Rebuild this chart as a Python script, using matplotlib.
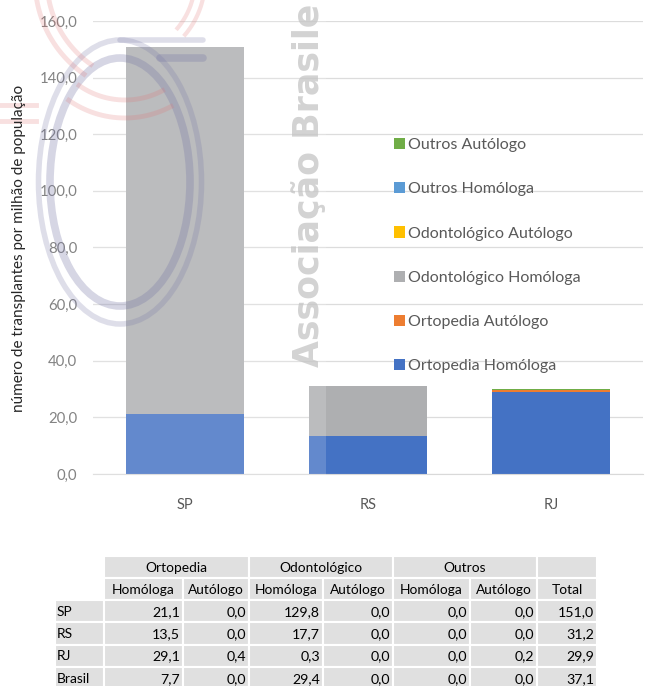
import numpy as np
import matplotlib
matplotlib.use("Agg")
import matplotlib.pyplot as plt
from matplotlib.patches import Rectangle, Ellipse

plt.rcParams['font.family'] = ['Lato', 'DejaVu Sans']

W, H = 657, 686

# dados do grafico
estados = ["SP", "RS", "RJ"]
series_nomes = ["Ortopedia Homóloga", "Ortopedia Autólogo", "Odontológico Homóloga",
                "Odontológico Autólogo", "Outros Homóloga", "Outros Autólogo"]
ortopedia_homologa = [21.1, 13.5, 29.1]
ortopedia_autologo = [0.0, 0.0, 0.4]
odonto_homologa = [129.8, 17.7, 0.3]
odonto_autologo = [0.0, 0.0, 0.0]
outros_homologa = [0.0, 0.0, 0.0]
outros_autologo = [0.0, 0.0, 0.2]
cores = ["#4472C4", "#ED7D31", "#AEAFB1", "#FFC000", "#5B9BD5", "#70AD47"]
y_ticks = [0, 20, 40, 60, 80, 100, 120, 140, 160]

# dados da tabela
tabela_linhas = ["SP", "RS", "RJ", "Brasil"]
grupos = ["Ortopedia", "Odontológico", "Outros"]
subcolunas = ["Homóloga", "Autólogo", "Homóloga", "Autólogo", "Homóloga", "Autólogo", "Total"]
tabela_valores = [
    [21.1, 0.0, 129.8, 0.0, 0.0, 0.0, 151.0],
    [13.5, 0.0, 17.7, 0.0, 0.0, 0.0, 31.2],
    [29.1, 0.4, 0.3, 0.0, 0.0, 0.2, 29.9],
    [7.7, 0.0, 29.4, 0.0, 0.0, 0.0, 37.1],
]


def fmt(v):
    return f"{v:.1f}".replace(".", ",")


def fig_box(x0, y0, x1, y1):
    # pixel box (y para baixo) -> fracao da figura
    return [x0 / W, 1 - y1 / H, (x1 - x0) / W, (y1 - y0) / H]


fig = plt.figure(figsize=(W / 100, H / 100), dpi=100)

# --- grafico de barras empilhadas ---
ax = fig.add_axes(fig_box(93, 21, 643, 474))
ax.set_zorder(1)
series = [ortopedia_homologa, ortopedia_autologo, odonto_homologa,
          odonto_autologo, outros_homologa, outros_autologo]
x = np.arange(len(estados))
base = np.zeros(len(estados))
handles = []
for nome, vals, cor in zip(series_nomes, series, cores):
    b = ax.bar(x, vals, 0.645, bottom=base, color=cor, label=nome, zorder=2)
    handles.append(b)
    base += np.array(vals)

ax.set_xlim(-0.5, 2.5)
ax.set_ylim(0, 160)
ax.set_yticks(y_ticks)
ax.set_yticklabels([fmt(v) for v in y_ticks])
ax.set_xticks(x)
ax.set_xticklabels(estados)
ax.yaxis.grid(True, color="#DCDCDC", lw=0.9)
ax.set_axisbelow(True)
for s in ["top", "right", "left"]:
    ax.spines[s].set_visible(False)
ax.spines["bottom"].set_color("#D9D9D9")
ax.tick_params(axis="y", length=0, pad=11.5, labelsize=10.7, labelcolor="#6a6a6a")
ax.tick_params(axis="x", length=0, pad=17, labelsize=10.5, labelcolor="#595959")

leg = ax.legend(handles[::-1], series_nomes[::-1], loc="upper left",
                bbox_to_anchor=(394 / W, 1 - 138 / H), bbox_transform=fig.transFigure,
                frameon=False, fontsize=11.5, labelcolor="#595959",
                handlelength=0.7, handleheight=0.7, handletextpad=0.2,
                labelspacing=1.88, borderpad=0, borderaxespad=0)

# --- camada em pixels: marca d'agua, rotulo e tabela ---
px = fig.add_axes([0, 0, 1, 1])
px.set_xlim(0, W)
px.set_ylim(H, 0)
px.axis("off")
px.set_zorder(3)
px.patch.set_alpha(0)

px.text(19, 248, "número de transplantes por milhão de população", rotation=90,
        ha="center", va="center", fontsize=11, color="#262626")

# marca d'agua (logo)
px.add_patch(Rectangle((0, 0), 326, 490, facecolor="white", alpha=0.17, lw=0))
lav = (0.47, 0.47, 0.65)
px.add_patch(Ellipse((120, 182), 163, 284, fill=False, ec=lav, lw=4, alpha=0.24))
px.add_patch(Ellipse((120, 182), 140, 248, fill=False, ec=lav, lw=5.5, alpha=0.3))
px.plot([120, 203], [40, 40], color=lav, lw=4, alpha=0.24, solid_capstyle="round")
px.plot([160, 203], [58, 58], color=lav, lw=5.5, alpha=0.3, solid_capstyle="round")
red = (0.88, 0.45, 0.45)
for r in [115, 103]:
    t = np.radians(np.linspace(125, 172, 40))
    px.plot(150 + r * np.cos(t), -20 + r * np.sin(t), color=red, lw=3.5, alpha=0.22)
for r in [75, 85]:
    t = np.radians(np.linspace(2, 40, 30))
    px.plot(120 + r * np.cos(t), -20 + r * np.sin(t), color=red, lw=3, alpha=0.22)
for r in [80, 98]:
    t = np.radians(np.linspace(62, 125, 30))
    px.plot(125 + r * np.cos(t), 20 + r * np.sin(t), color=red, lw=3.5, alpha=0.22)
for yy in [105, 121]:
    px.plot([0, 36], [yy, yy], color=red, lw=3.5, alpha=0.22)
px.text(309, 367, "Associação Brasile", rotation=90, rotation_mode="anchor",
        ha="left", va="center", fontsize=25, fontweight="bold",
        family=["DejaVu Sans"], color="#C4C4C4", alpha=0.75)

# tabela
col_edges = [55, 104, 183, 249, 323, 393, 470, 537, 597]
row_edges = [555.7, 577.8, 600, 622.4, 644.8, 667.2, 690]
cell_cor = "#E0E0E0"
fs_tab = 9.9


def cell(x0, x1, y0, y1):
    px.add_patch(Rectangle((x0, y0), x1 - x0, y1 - y0, facecolor=cell_cor,
                           edgecolor="white", lw=1.5))


# cabecalho 1
for i, g in enumerate(grupos):
    x0, x1 = col_edges[1 + 2 * i], col_edges[3 + 2 * i]
    cell(x0, x1, row_edges[0], row_edges[1])
    px.text((x0 + x1) / 2, row_edges[0] + 16, g,
            ha="center", va="baseline", fontsize=fs_tab, color="black")
cell(col_edges[7], col_edges[8], row_edges[0], row_edges[1])

# cabecalho 2
for j, s in enumerate(subcolunas):
    x0, x1 = col_edges[1 + j], col_edges[2 + j]
    cell(x0, x1, row_edges[1], row_edges[2])
    px.text((x0 + x1) / 2, row_edges[1] + 16, s,
            ha="center", va="baseline", fontsize=fs_tab, color="black")

# linhas
for i, nome in enumerate(tabela_linhas):
    y0, y1 = row_edges[2 + i], row_edges[3 + i]
    yb = y0 + 15.7
    cell(col_edges[0], col_edges[1], y0, y1)
    px.text(col_edges[0] + 1.5, yb, nome, ha="left", va="baseline", fontsize=fs_tab, color="black")
    for j, v in enumerate(tabela_valores[i]):
        x0, x1 = col_edges[1 + j], col_edges[2 + j]
        cell(x0, x1, y0, y1)
        px.text(x1 - 3, yb, fmt(v), ha="right", va="baseline", fontsize=10.2, color="black")

fig.savefig("out.png", dpi=100)
